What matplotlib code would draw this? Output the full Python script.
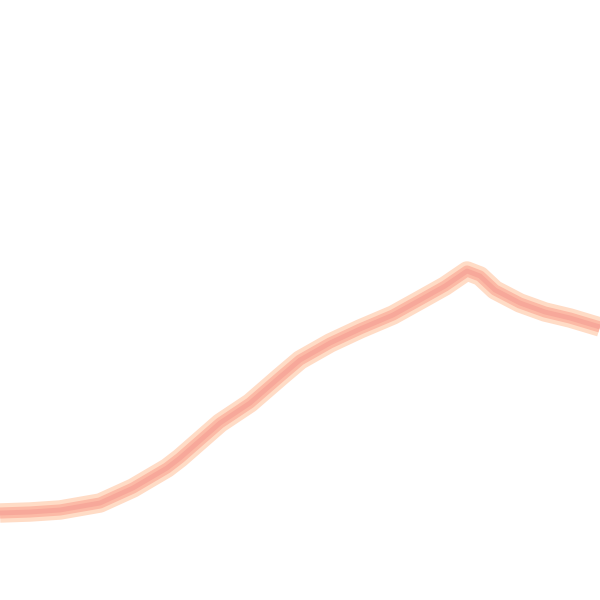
import matplotlib
matplotlib.use('Agg')
import matplotlib.pyplot as plt

# points (x right, y down, 600 px frame)
xs = [0, 30, 60, 100, 133, 167, 180, 220, 250, 280, 300, 330, 360, 393, 420, 445, 467, 480, 495, 520, 545, 570, 600]
ys = [513, 512, 510, 503, 488, 468, 458, 423, 403, 377, 360, 343, 329, 315, 300, 286, 271, 276, 290, 303, 312, 318, 327]

fig = plt.figure(figsize=(6, 6), dpi=100)
ax = fig.add_axes([0, 0, 1, 1])
ax.plot(xs, ys, color='#ffdcc6', lw=14, solid_capstyle='butt', solid_joinstyle='round')
ax.plot(xs, ys, color='#fcbaa6', lw=8, solid_capstyle='butt', solid_joinstyle='round')
ax.plot(xs, ys, color='#f59c92', lw=3.5, alpha=0.6, solid_capstyle='butt', solid_joinstyle='round')
ax.set_xlim(0, 600)
ax.set_ylim(600, 0)
ax.axis('off')
fig.savefig('out.png', dpi=100)
